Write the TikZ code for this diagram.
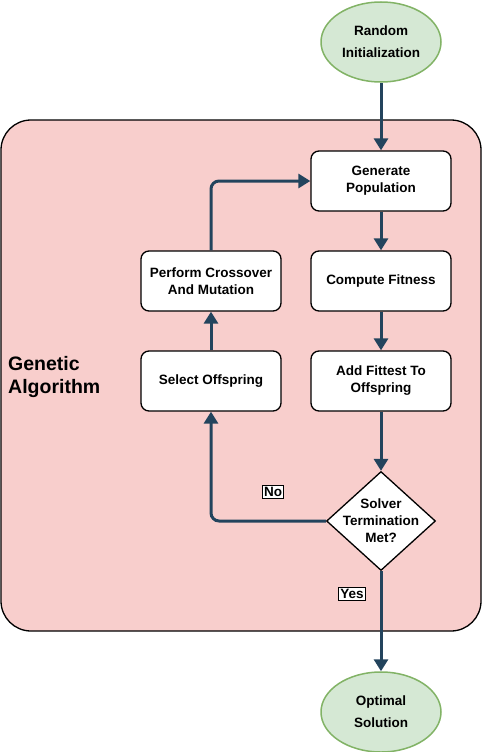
\documentclass[tikz,border=0pt]{standalone}
\usepackage{fontspec}
\setmainfont{Liberation Sans}
\usetikzlibrary{shapes.geometric,arrows.meta}
\definecolor{ellfill}{HTML}{D5E8D4}
\definecolor{ellline}{HTML}{82B366}
\definecolor{boxfill}{HTML}{F8CECC}
\definecolor{arr}{HTML}{23445D}
\begin{document}
\begin{tikzpicture}[x=1pt,y=-1pt,
  term/.style={ellipse,draw=ellline,fill=ellfill,line width=1.5pt,minimum width=120pt,minimum height=80pt,inner sep=0pt,align=center,font=\bfseries\fontsize{13.5}{22}\selectfont},
  proc/.style={rectangle,rounded corners=8pt,draw=black,fill=white,line width=1.3pt,minimum width=140pt,minimum height=60pt,inner sep=0pt,align=center,font=\bfseries\fontsize{13.5}{17}\selectfont},
  dec/.style={diamond,draw=black,fill=white,line width=1.3pt,minimum width=109pt,minimum height=99pt,inner sep=0pt},
  dectext/.style={inner sep=0pt,align=center,font=\bfseries\fontsize{13.5}{17}\selectfont},
  flow/.style={draw=arr,line width=3pt,rounded corners=8pt,-{Triangle[width=14pt,length=12pt]}},
  lbl/.style={draw=black,fill=white,line width=0.8pt,inner sep=1.5pt,font=\bfseries\fontsize{13.5}{14}\selectfont}
]
\useasboundingbox (0,0) rectangle (482,752);
\node[draw=black,fill=boxfill,line width=1.3pt,rounded corners=30pt,minimum width=480pt,minimum height=511pt,inner sep=0pt] (ga) at (241,375.5) {};
\node[anchor=west,align=left,font=\bfseries\fontsize{19.5}{23}\selectfont,inner sep=0pt] (galbl) at (8,377) {Genetic\\Algorithm};
\node[term] (init) at (381,42) {Random\\Initialization};
\node[proc] (gen) at (381,181) {Generate\\Population};
\node[proc] (fit) at (381,281) {Compute Fitness};
\node[proc] (add) at (381,381) {Add Fittest To\\Offspring};
\node[dec] (term) at (381,521) {};
\node[dectext] (termtxt) at (381,521) {Solver\\Termination\\Met?};
\node[proc] (sel) at (211,381) {Select Offspring};
\node[proc] (cross) at (211,281) {Perform Crossover\\And Mutation};
\node[term] (opt) at (381,712) {Optimal\\Solution};
\draw[flow] (init) -- (gen);
\draw[flow] (gen) -- (fit);
\draw[flow] (fit) -- (add);
\draw[flow] (add) -- (term);
\draw[flow] (term.west) -| (sel.south);
\draw[flow] (sel) -- (cross);
\draw[flow] (cross.north) |- (gen.west);
\draw[flow] (term.south) -- (opt.north);
\node[lbl] (no) at (273,492) {No};
\node[lbl] (yes) at (352,594) {Yes};
\end{tikzpicture}
\end{document}
